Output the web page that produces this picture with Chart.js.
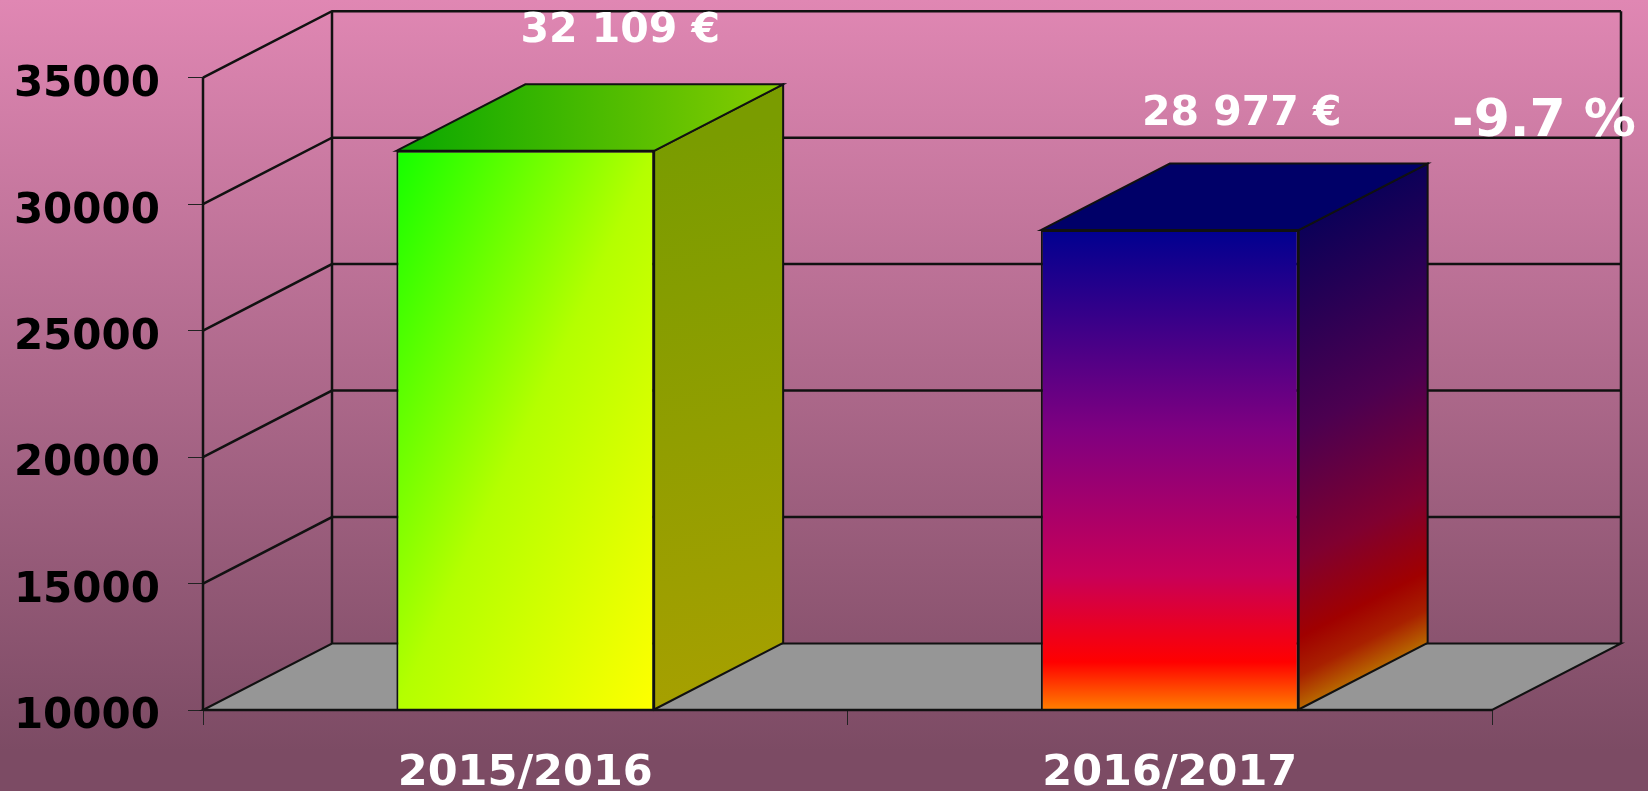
<!DOCTYPE html>
<html>
<head>
<meta charset="utf-8">
<title>2015/2016 - 2016/2017</title>
<script src="https://cdn.jsdelivr.net/npm/chart.js@4"></script>
<style>
    html, body { margin: 0; padding: 0; overflow: hidden; background: #7a4a63; }
    canvas { display: block; }
</style>
</head>
<body>
<canvas id="barChart" width="1648" height="791"></canvas>
<script>
const seasons = ['2015/2016', '2016/2017'];
const amounts = [32109, 28977];
const amountLabels = ['32 109 €', '28 977 €'];
const changeLabel = '-9.7 %';
const axisMin = 10000;
const axisMax = 35000;
const axisStep = 5000;

// 3d box look
const DEPTH_X = 129;
const DEPTH_Y = 66.5;
const FONT = '"DejaVu Sans"';

// offset of the white amount labels from the top of each bar
const labelDx = [95, 72];
const labelDy = [-108.5, -105.5];

function gradient(ctx, x0, y0, x1, y1, stops) {
    const g = ctx.createLinearGradient(x0, y0, x1, y1);
    stops.forEach(s => g.addColorStop(s[0], s[1]));
    return g;
}

function frontFill(context) {
    const chart = context.chart;
    if (!chart.chartArea) return '#000';
    const y0 = chart.scales.y.getPixelForValue(amounts[context.dataIndex]);
    const y1 = chart.scales.y.getPixelForValue(axisMin);
    const xc = chart.scales.x.getPixelForValue(context.dataIndex);
    const w = chart.scales.x.width / seasons.length * 0.4;
    const h = y1 - y0;
    if (context.dataIndex === 0) {
        // runs so the top right and bottom left corners get about the same colour
        const s = 2 * w * h / (w * w + h * h);
        const x0 = xc - w / 2;
        return gradient(chart.ctx, x0, y0, x0 + h * s, y0 + w * s, [
            [0, '#14ff00'], [0.5, '#b4ff00'], [1, '#ffff00']
        ]);
    }
    return gradient(chart.ctx, 0, y0, 0, y1, [
        [0, '#000090'], [0.42, '#800080'], [0.72, '#c80058'],
        [0.9, '#ff0000'], [1, '#ff8000']
    ]);
}

function sideFill(ctx, i, x, y0, y1) {
    if (i === 0) {
        return gradient(ctx, x, y0, x + DEPTH_X, y1, [[0, '#7a9c00'], [1, '#a8a000']]);
    }
    // colour bands follow the slope of the face
    const len = Math.hypot(DEPTH_X, DEPTH_Y);
    const dist = (y1 - y0) * DEPTH_X / len;
    return gradient(ctx, x, y0, x + DEPTH_Y / len * dist, y0 + DEPTH_X / len * dist, [
        [0, '#0c0058'], [0.42, '#4c0050'], [0.69, '#800030'],
        [0.85, '#a00000'], [0.93, '#a82000'], [1, '#b86800']
    ]);
}

function topFill(ctx, i, x0, x1) {
    if (i === 0) {
        return gradient(ctx, x0, 0, x1 + DEPTH_X, 0, [[0, '#08a800'], [1, '#88cc00']]);
    }
    return '#000068';
}

function poly(ctx, points, fill) {
    ctx.beginPath();
    points.forEach((p, n) => n ? ctx.lineTo(p[0], p[1]) : ctx.moveTo(p[0], p[1]));
    ctx.closePath();
    if (fill) {
        ctx.fillStyle = fill;
        ctx.fill();
    }
    ctx.stroke();
}

const box3d = {
    id: 'box3d',
    beforeDraw(chart) {
        const ctx = chart.ctx;
        ctx.save();
        ctx.fillStyle = gradient(ctx, 0, 0, 0, chart.height, [[0, '#e087b3'], [0.95, '#7c4b64'], [1, '#7c4b64']]);
        ctx.fillRect(0, 0, chart.width, chart.height);
        ctx.restore();
    },
    beforeDatasetsDraw(chart) {
        const ctx = chart.ctx;
        const sx = chart.scales.x;
        const sy = chart.scales.y;
        const left = sx.left;
        const right = sx.right;
        const bottom = sy.getPixelForValue(axisMin);
        const top = sy.getPixelForValue(axisMax);

        ctx.save();
        ctx.strokeStyle = '#111';
        ctx.lineWidth = 2;

        // floor
        poly(ctx, [[left, bottom], [left + DEPTH_X, bottom - DEPTH_Y],
            [right + DEPTH_X, bottom - DEPTH_Y], [right, bottom]], '#969696');

        // side wall and back wall grid
        ctx.lineWidth = 2.5;
        for (let v = axisMin + axisStep; v <= axisMax; v += axisStep) {
            const y = sy.getPixelForValue(v);
            ctx.beginPath();
            ctx.moveTo(left, y);
            ctx.lineTo(left + DEPTH_X, y - DEPTH_Y);
            ctx.lineTo(right + DEPTH_X, y - DEPTH_Y);
            ctx.stroke();
        }
        ctx.beginPath();
        ctx.moveTo(left, bottom);
        ctx.lineTo(left, top);
        ctx.moveTo(left + DEPTH_X, bottom - DEPTH_Y);
        ctx.lineTo(left + DEPTH_X, top - DEPTH_Y);
        ctx.moveTo(right + DEPTH_X, bottom - DEPTH_Y);
        ctx.lineTo(right + DEPTH_X, top - DEPTH_Y);
        ctx.stroke();

        // right and top faces of the bars
        ctx.lineWidth = 2;
        chart.getDatasetMeta(0).data.forEach((bar, i) => {
            const x0 = bar.x - bar.width / 2;
            const x1 = bar.x + bar.width / 2;
            poly(ctx, [[x1, bar.y], [x1 + DEPTH_X, bar.y - DEPTH_Y],
                [x1 + DEPTH_X, bar.base - DEPTH_Y], [x1, bar.base]],
                sideFill(ctx, i, x1, bar.y, bar.base));
            poly(ctx, [[x0, bar.y], [x0 + DEPTH_X, bar.y - DEPTH_Y],
                [x1 + DEPTH_X, bar.y - DEPTH_Y], [x1, bar.y]],
                topFill(ctx, i, x0, x1));
        });
        ctx.restore();
    },
    afterDatasetsDraw(chart) {
        const ctx = chart.ctx;
        const sx = chart.scales.x;
        const bottom = chart.scales.y.getPixelForValue(axisMin);

        ctx.save();
        ctx.strokeStyle = '#111';
        ctx.lineWidth = 2.5;
        ctx.beginPath();
        ctx.moveTo(sx.left, bottom);
        ctx.lineTo(sx.right, bottom);
        ctx.stroke();

        ctx.fillStyle = '#fff';
        ctx.textAlign = 'center';
        ctx.textBaseline = 'alphabetic';
        ctx.font = 'bold 41px ' + FONT;
        chart.getDatasetMeta(0).data.forEach((bar, i) => {
            ctx.fillText(amountLabels[i], bar.x + labelDx[i], bar.y + labelDy[i]);
        });
        ctx.font = 'bold 52px ' + FONT;
        ctx.fillText(changeLabel, sx.right + 52, chart.scales.y.getPixelForValue(32700));
        ctx.restore();
    }
};

new Chart(document.getElementById('barChart').getContext('2d'), {
    type: 'bar',
    data: {
        labels: seasons,
        datasets: [{
            data: amounts,
            base: axisMin,
            backgroundColor: frontFill,
            borderColor: '#111',
            borderWidth: 2,
            categoryPercentage: 1,
            barPercentage: 0.4
        }]
    },
    options: {
        responsive: false,
        animation: false,
        layout: { padding: { top: 77.7, right: 156, left: 0, bottom: 0 } },
        plugins: { legend: { display: false }, tooltip: { enabled: false } },
        scales: {
            x: {
                afterFit(scale) { scale.height = 81; },
                border: { display: false },
                grid: { offset: true, drawOnChartArea: false, drawTicks: true, tickLength: 15, color: '#222', lineWidth: 1 },
                ticks: { color: '#fff', padding: 23, maxRotation: 0, font: { family: FONT, size: 43, weight: 'bold' } }
            },
            y: {
                min: axisMin,
                max: axisMax,
                afterFit(scale) { scale.width = 203; },
                border: { display: false },
                grid: { drawOnChartArea: false, drawTicks: true, tickLength: 15, color: '#222', lineWidth: 1 },
                ticks: {
                    stepSize: axisStep,
                    color: '#000',
                    padding: 28,
                    // blank first line pushes the digits down to sit level with the tick
                    callback: value => ['', String(value)],
                    font: { family: FONT, size: 42, weight: 'bold', lineHeight: '15px' }
                }
            }
        }
    },
    plugins: [box3d]
});
</script>
</body>
</html>
